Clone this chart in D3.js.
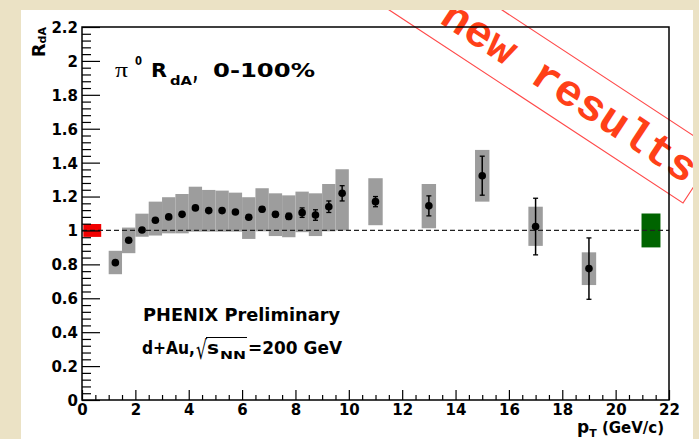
<!DOCTYPE html>
<html>
<head>
<meta charset="utf-8">
<script src="https://cdn.jsdelivr.net/npm/d3@7"></script>
<style>
  body { margin: 0; background: #ebe2c5; }
  svg { display: block; }
  text { font-family: "DejaVu Sans", "Liberation Sans", sans-serif; font-weight: bold; fill: #000; }
</style>
</head>
<body>
<div id="chart"></div>
<script>
/* pi0 RdA in d+Au, 0-100% : points, stat bars, sys boxes */
var pt      = [1.25, 1.75, 2.25, 2.75, 3.25, 3.75, 4.25, 4.75, 5.25, 5.75, 6.25, 6.75, 7.25, 7.75, 8.25, 8.75, 9.25, 9.75, 11, 13, 15, 17, 19];
var rda     = [0.81, 0.942, 1.003, 1.06, 1.08, 1.095, 1.133, 1.117, 1.117, 1.109, 1.078, 1.125, 1.095, 1.083, 1.105, 1.091, 1.14, 1.219, 1.17, 1.145, 1.323, 1.023, 0.775];
var statErr = [0.01, 0.01, 0.01, 0.01, 0.01, 0.01, 0.01, 0.01, 0.012, 0.012, 0.012, 0.014, 0.015, 0.018, 0.028, 0.031, 0.034, 0.045, 0.03, 0.059, 0.115, 0.167, 0.181];
var sysUp   = [0.07, 0.075, 0.096, 0.11, 0.116, 0.12, 0.125, 0.122, 0.118, 0.114, 0.118, 0.124, 0.124, 0.124, 0.124, 0.128, 0.134, 0.142, 0.138, 0.129, 0.152, 0.117, 0.096];
var sysDn   = [0.068, 0.076, 0.04, 0.09, 0.097, 0.112, 0.14, 0.124, 0.124, 0.116, 0.128, 0.13, 0.128, 0.123, 0.115, 0.124, 0.145, 0.219, 0.139, 0.132, 0.153, 0.114, 0.097];

// global normalisation boxes around 1 (left: red, right: green)
var normX0  = [0.05, 20.97];
var normX1  = [0.72, 21.68];
var normErr = [0.038, 0.10];
var normColor = ["#f20000", "#006400"];

var xTicks = [0, 2, 4, 6, 8, 10, 12, 14, 16, 18, 20, 22];
var yTicks = [0, 0.2, 0.4, 0.6, 0.8, 1, 1.2, 1.4, 1.6, 1.8, 2, 2.2];

var W = 699, H = 439;
var x = d3.scaleLinear().domain([0, 22]).range([82, 669]);
var y = d3.scaleLinear().domain([0, 2.2]).range([400, 27]);

var svg = d3.select("#chart").append("svg").attr("width", W).attr("height", H);

// white page
svg.append("rect").attr("x", 21).attr("y", 10).attr("width", 672).attr("height", H - 10).style("fill", "#fff");
svg.append("clipPath").attr("id", "pageClip")
    .append("rect").attr("x", 21).attr("y", 10).attr("width", 672).attr("height", H - 10);

var pts = pt.map(function (p, i) {
    return { pt: p, v: rda[i], st: statErr[i], up: sysUp[i], dn: sysDn[i] };
});

// sys boxes
svg.append("g").selectAll("rect").data(pts).enter().append("rect")
    .attr("x", function (d) { var hw = d.pt < 10 ? 0.25 : 0.27; return x(d.pt - hw); })
    .attr("width", function (d) { var hw = d.pt < 10 ? 0.25 : 0.27; return x(d.pt + hw) - x(d.pt - hw); })
    .attr("y", function (d) { return y(d.v + d.up); })
    .attr("height", function (d) { return y(d.v - d.dn) - y(d.v + d.up); })
    .style("fill", "#9d9d9d");

// normalisation boxes
svg.append("g").selectAll("rect").data(normX0).enter().append("rect")
    .attr("x", function (d) { return x(d); })
    .attr("width", function (d, i) { return x(normX1[i]) - x(d); })
    .attr("y", function (d, i) { return y(1 + normErr[i]); })
    .attr("height", function (d, i) { return y(1 - normErr[i]) - y(1 + normErr[i]); })
    .style("fill", function (d, i) { return normColor[i]; });

// dashed line at 1
svg.append("line").attr("x1", x(0)).attr("x2", x(22)).attr("y1", y(1)).attr("y2", y(1))
    .style("stroke", "#222").style("stroke-width", 1.3).style("stroke-dasharray", "5,3");

// stat error bars
var eb = svg.append("g").selectAll("g").data(pts).enter().append("g");
eb.append("line")
    .attr("x1", function (d) { return x(d.pt); }).attr("x2", function (d) { return x(d.pt); })
    .attr("y1", function (d) { return y(d.v + d.st); }).attr("y2", function (d) { return y(d.v - d.st); })
    .style("stroke", "#000").style("stroke-width", 1.5);
[1, -1].forEach(function (s) {
    eb.append("line")
        .attr("x1", function (d) { return x(d.pt) - 2.5; }).attr("x2", function (d) { return x(d.pt) + 2.5; })
        .attr("y1", function (d) { return y(d.v + s * d.st); }).attr("y2", function (d) { return y(d.v + s * d.st); })
        .style("stroke", "#000").style("stroke-width", 1.3);
});

// markers
svg.append("g").selectAll("circle").data(pts).enter().append("circle")
    .attr("cx", function (d) { return x(d.pt); })
    .attr("cy", function (d) { return y(d.v); })
    .attr("r", 3.8)
    .style("fill", "#000");

// "new results" stamp, clipped to the page
var stamp = svg.append("g").attr("clip-path", "url(#pageClip)")
    .append("g").attr("transform", "translate(683,203) rotate(33.3)");
stamp.append("rect").attr("x", -560).attr("y", -62).attr("width", 560).attr("height", 62)
    .style("fill", "none").style("stroke", "#ff4a4a").style("stroke-width", 1.2);
stamp.append("text").attr("x", -304).attr("y", -17).text("new results")
    .attr("textLength", 296).attr("lengthAdjust", "spacingAndGlyphs")
    .style("font-family", "'Liberation Mono','DejaVu Sans Mono',monospace")
    .style("font-size", "44px").style("fill", "#ff4018");

// axes: major + minor ticks pointing inwards
var yMinor = d3.range(0, 2.2001, 0.04).filter(function (v) { return Math.abs(v / 0.2 - Math.round(v / 0.2)) > 0.01; });
var xMinor = d3.range(0, 22.001, 0.5).filter(function (v) { return Math.abs(v / 2 - Math.round(v / 2)) > 0.01; });

var gy = svg.append("g").attr("transform", "translate(" + x(0) + ",0)")
    .call(d3.axisLeft(y).tickValues(yTicks).tickSizeInner(-18).tickSizeOuter(0).tickPadding(4)
        .tickFormat(function (d) { return d3.format("")(+d.toFixed(1)); }));
svg.append("g").attr("transform", "translate(" + x(0) + ",0)")
    .call(d3.axisLeft(y).tickValues(yMinor).tickSizeInner(-9).tickSizeOuter(0).tickFormat(""));

var gx = svg.append("g").attr("transform", "translate(0," + y(0) + ")")
    .call(d3.axisBottom(x).tickValues(xTicks).tickSizeInner(-10).tickSizeOuter(0).tickPadding(4));
svg.append("g").attr("transform", "translate(0," + y(0) + ")")
    .call(d3.axisBottom(x).tickValues(xMinor).tickSizeInner(-5).tickSizeOuter(0).tickFormat(""));

svg.selectAll(".domain").remove();
svg.selectAll(".tick line").style("stroke", "#000").style("stroke-width", 1.2);
svg.selectAll(".tick text").style("font-family", "'DejaVu Sans',sans-serif").style("font-size", "15px").style("font-weight", "bold");
gy.selectAll(".tick text").attr("dy", "0.36em");
gx.selectAll(".tick text").attr("dy", "0.75em");

// frame
svg.append("rect").attr("x", x(0)).attr("y", y(2.2)).attr("width", x(22) - x(0)).attr("height", y(0) - y(2.2))
    .style("fill", "none").style("stroke", "#000").style("stroke-width", 1.5);

// axis titles
var yt = svg.append("text").attr("transform", "translate(45,27) rotate(-90)").attr("text-anchor", "end");
yt.append("tspan").text("R").style("font-size", "18px");
yt.append("tspan").text("dA").attr("dy", 1).style("font-size", "11px");

var xt = svg.append("text").attr("x", 577).attr("y", 433);
xt.append("tspan").text("p").style("font-size", "17px");
xt.append("tspan").text("T").attr("dy", 4).style("font-size", "11px");
xt.append("tspan").text(" (GeV/c)").attr("dy", -4).style("font-size", "15px");

// plot title  pi0 RdA, 0-100%
function put(txt, px, py, size, len, fam) {
    var t = svg.append("text").attr("x", px).attr("y", py).text(txt).style("font-size", size + "px");
    if (len) t.attr("textLength", len).attr("lengthAdjust", "spacingAndGlyphs");
    if (fam) t.style("font-family", fam).style("font-weight", "normal");
    return t;
}
put("\u03c0", 115, 77, 22, 13, "'Liberation Serif','DejaVu Serif',serif");
put("0", 135, 65, 12, 7);
put("R", 151, 77, 19, 16);
put("dA", 170, 85, 12, 22);
put(",", 193, 80, 21, 5);
put("0-100%", 213, 77, 19, 102);

// labels
put("PHENIX Preliminary", 143, 321, 17, 197);
put("d+Au,", 142, 354, 17, 53);
put("\u221a", 196, 359, 26, 11, "'DejaVu Sans',sans-serif");
put("s", 207, 354, 17, 12);
put("NN", 220, 359, 11, 26);
put("=200 GeV", 248, 354, 17, 94);
svg.append("line").attr("x1", 206).attr("x2", 247).attr("y1", 337.5).attr("y2", 337.5)
    .style("stroke", "#000").style("stroke-width", 1.2);
</script>
</body>
</html>
